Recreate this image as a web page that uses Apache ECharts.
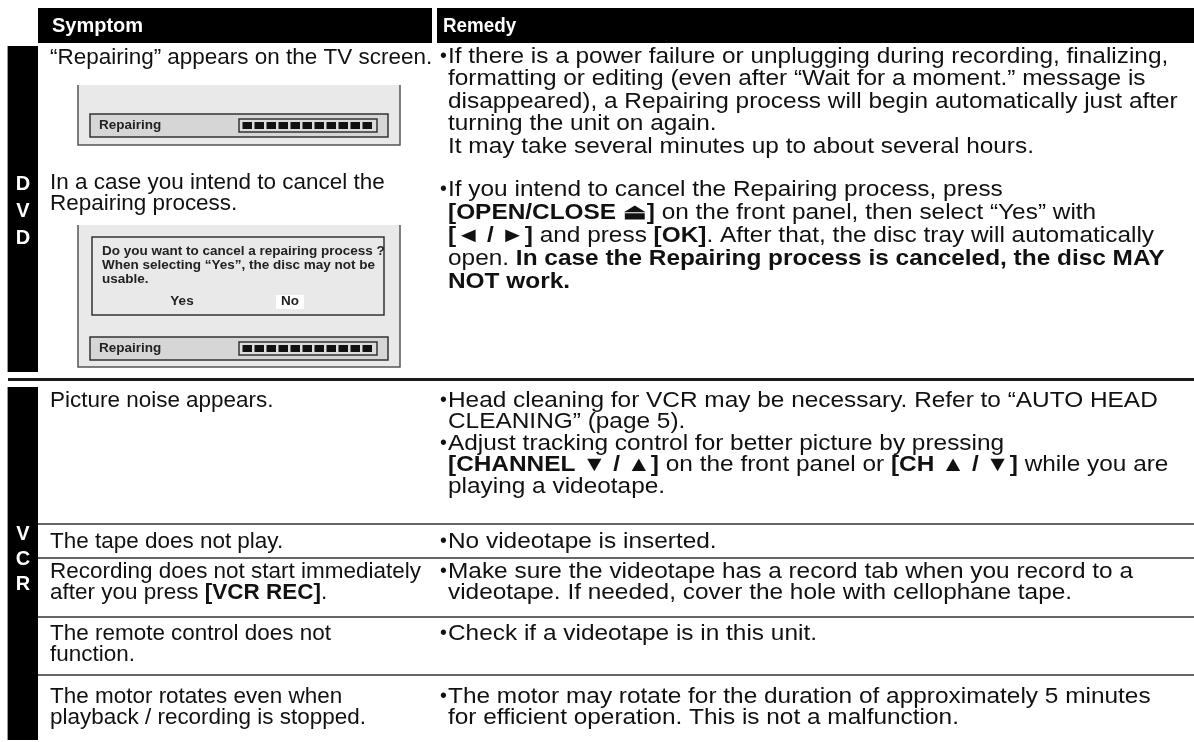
<!DOCTYPE html>
<html><head><meta charset="utf-8">
<script src="https://cdn.jsdelivr.net/npm/echarts@6/dist/echarts.min.js"></script>
<style>html,body{margin:0;padding:0;background:#fff}#c{width:1194px;height:742px}</style>
</head><body><div id="c"></div>
<script>
// ---------- data ----------
const headers = ['Symptom', 'Remedy'];
const sectionLabels = ['DVD', 'VCR'];
const dvdSymptoms = [
  ['“Repairing” appears on the TV screen.'],
  ['In a case you intend to cancel the', 'Repairing process.']
];
const dvdRemedies = [
  ['If there is a power failure or unplugging during recording, finalizing,',
   'formatting or editing (even after “Wait for a moment.” message is',
   'disappeared), a Repairing process will begin automatically just after',
   'turning the unit on again.',
   'It may take several minutes up to about several hours.'],
  ['If you intend to cancel the Repairing process, press',
   '{b|[OPEN/CLOSE ⏏]} on the front panel, then select “Yes” with',
   '{b|[◄ / ►]} and press {b|[OK]}. After that, the disc tray will automatically',
   'open. {b|In case the Repairing process is canceled, the disc MAY}',
   '{b|NOT work.}']
];
const screenLabel = 'Repairing';
const dialogLines = ['Do you want to cancel a repairing process ?', 'When selecting “Yes”, the disc may not be', 'usable.'];
const dialogButtons = ['Yes', 'No'];
const vcrSymptoms = [
  ['Picture noise appears.'],
  ['The tape does not play.'],
  ['Recording does not start immediately', 'after you press {b|[VCR REC]}.'],
  ['The remote control does not', 'function.'],
  ['The motor rotates even when', 'playback / recording is stopped.']
];
const vcrRemedies = [
  [['Head cleaning for VCR may be necessary. Refer to “AUTO HEAD', 'CLEANING” (page 5).'],
   ['Adjust tracking control for better picture by pressing',
    '{b|[CHANNEL ▼ / ▲]} on the front panel or {b|[CH ▲ / ▼]} while you are',
    'playing a videotape.']],
  [['No videotape is inserted.']],
  [['Make sure the videotape has a record tab when you record to a',
    'videotape. If needed, cover the hole with cellophane tape.']],
  [['Check if a videotape is in this unit.']],
  [['The motor may rotate for the duration of approximately 5 minutes',
    'for efficient operation. This is not a malfunction.']]
];
const progressSegments = 11;

// ---------- layout ----------
const W = 1194, H = 742;
const FONT = "'Liberation Sans', Arial, Helvetica, sans-serif";
const L = {
  barX: 8, barW: 30,
  headY: 8, headH: 35, split: 432, gap: 5,
  symX: 50, symSize: 21.5, symSX: 1.045,
  bulX: 440, remX: 448, remSize: 21.5, remSX: 1.135,
  dvdTop: 46, dvdBot: 372, thickY: 379.5, vcrTop: 387, vcrBot: 740
};
const els = [];
function txt(str, x, y, o) {
  o = o || {};
  const size = o.size || 21, fill = o.fill || '#111';
  els.push({
    type: 'text', x: x, y: y, scaleX: o.sx || 1, scaleY: 1, silent: true, z: 10,
    style: {
      text: str, font: (o.bold ? 'bold ' : '') + size + 'px ' + FONT, fill: fill,
      align: o.align || 'left', verticalAlign: 'middle',
      textAlign: o.align || 'left', textVerticalAlign: 'middle',
      rich: { b: { fontWeight: 'bold', fontSize: size, fontFamily: FONT, fill: fill } }
    }
  });
}
function rect(x, y, w, h, fill, stroke, lw, z) {
  els.push({ type: 'rect', silent: true, z: z || 1, shape: { x: x, y: y, width: w, height: h },
    style: { fill: fill || 'none', stroke: stroke || 'none', lineWidth: lw || 0 } });
}
function line(x1, y1, x2, y2, stroke, lw, z) {
  els.push({ type: 'line', silent: true, z: z || 2, shape: { x1: x1, y1: y1, x2: x2, y2: y2 },
    style: { stroke: stroke, lineWidth: lw } });
}
function poly(pts, stroke, lw, z) {
  els.push({ type: 'polyline', silent: true, z: z || 3, shape: { points: pts },
    style: { stroke: stroke, lineWidth: lw, fill: 'none' } });
}

// header
rect(L.barX + L.barW, L.headY, L.split - L.barX - L.barW, L.headH, '#000');
rect(L.split + L.gap, L.headY, W - L.split - L.gap, L.headH, '#000');
txt(headers[0], 52, L.headY + L.headH / 2 + 1, { bold: true, size: 20, sx: 1.0, fill: '#fff' });
txt(headers[1], 443, L.headY + L.headH / 2 + 1, { bold: true, size: 20, sx: 0.94, fill: '#fff' });

// section bars
rect(L.barX, L.dvdTop, L.barW, L.dvdBot - L.dvdTop, '#000');
rect(L.barX, L.vcrTop, L.barW, L.vcrBot - L.vcrTop, '#000');
line(L.barX - 0.5, L.dvdTop, L.barX - 0.5, L.dvdBot, '#999', 1);
line(L.barX - 0.5, L.vcrTop, L.barX - 0.5, L.vcrBot, '#999', 1);
const dvdLetterY = [184, 211, 238], vcrLetterY = [534, 559, 584];
sectionLabels[0].split('').forEach((c, i) => txt(c, L.barX + L.barW / 2, dvdLetterY[i], { bold: true, size: 20, fill: '#fff', align: 'center' }));
sectionLabels[1].split('').forEach((c, i) => txt(c, L.barX + L.barW / 2, vcrLetterY[i], { bold: true, size: 20, fill: '#fff', align: 'center' }));
line(L.barX, L.thickY, W, L.thickY, '#1a1a1a', 3);

// ---- DVD symptom column ----
txt(dvdSymptoms[0][0], L.symX, 58, { size: L.symSize, sx: L.symSX });
dvdSymptoms[1].forEach((s, i) => txt(s, L.symX, 183 + i * 21.5, { size: L.symSize, sx: L.symSX }));

function progress(x, y, w, h) {
  rect(x, y, w, h, '#dcdcdc', '#333', 1.5, 4);
  const inner = w - 6, step = inner / progressSegments;
  for (let i = 0; i < progressSegments; i++) rect(x + 3 + i * step + 0.5, y + 3, step - 2.5, h - 6, '#111', null, 0, 5);
}
function screenBar(y) {
  rect(90, y, 298, 23, '#d6d6d6', '#333', 1.5, 3);
  txt(screenLabel, 99, y + 12, { bold: true, size: 12.5, sx: 1.08, fill: '#222' });
  progress(239, y + 5, 138, 13);
}
// box 1
rect(78, 85, 322, 60, '#e9e9e9', null, 0, 2);
poly([[78, 85], [78, 145], [400, 145], [400, 85]], '#555', 1.5);
screenBar(114);
// box 2
rect(78, 225, 322, 142, '#e9e9e9', null, 0, 2);
poly([[78, 225], [78, 367], [400, 367], [400, 225]], '#555', 1.5);
rect(92, 237, 292, 78, '#e9e9e9', '#333', 1.5, 3);
dialogLines.forEach((s, i) => txt(s, 102, 252 + i * 14, { bold: true, size: 12.5, sx: 1.08, fill: '#222' }));
rect(276, 295, 28, 14, '#fff', null, 0, 4);
txt(dialogButtons[0], 182, 302, { bold: true, size: 12.5, sx: 1.08, fill: '#222', align: 'center' });
txt(dialogButtons[1], 290, 302, { bold: true, size: 12.5, sx: 1.08, fill: '#222', align: 'center' });
screenBar(337);

// ---- DVD remedy column ----
function remedyBlock(lines, y0, pitch) {
  txt('•', L.bulX, y0, { size: L.remSize - 2 });
  lines.forEach((s, i) => txt(s, L.remX, y0 + i * pitch, { size: L.remSize, sx: L.remSX }));
  return y0 + lines.length * pitch;
}
remedyBlock(dvdRemedies[0], 57, 22.5);
remedyBlock(dvdRemedies[1], 190, 23);

// ---- VCR rows ----
const rowLines = [524, 558, 617, 675];
const rowTextY = [401, 542, 572, 634, 697];
rowLines.forEach(y => line(L.barX + L.barW, y, W, y, '#333', 1.5));
vcrSymptoms.forEach((lines, r) => {
  lines.forEach((s, i) => txt(s, L.symX, rowTextY[r] + i * 21, { size: L.symSize, sx: L.symSX }));
});
vcrRemedies.forEach((blocks, r) => {
  let y = rowTextY[r];
  const p = r === 0 ? 21.5 : 21;
  blocks.forEach(b => { y = remedyBlock(b, y, p); });
});

const chart = echarts.init(document.getElementById('c'), null, { renderer: 'canvas', width: W, height: H });
chart.setOption({ animation: false, graphic: { elements: els } });
</script>
</body></html>
